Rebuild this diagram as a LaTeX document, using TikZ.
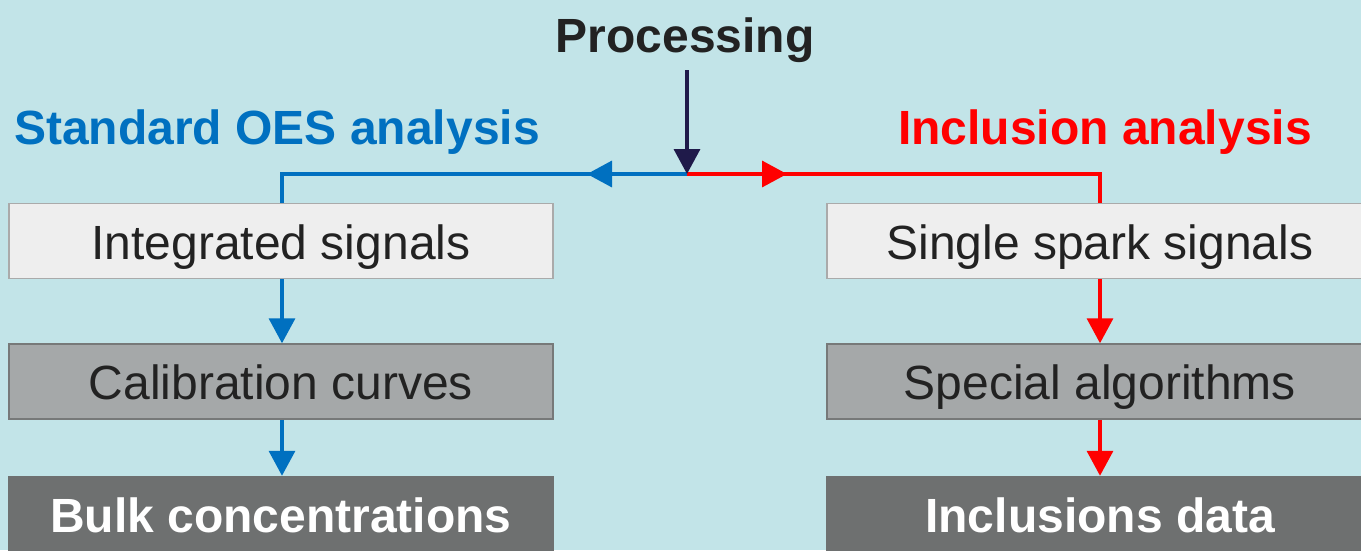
\documentclass[tikz,border=0pt]{standalone}
\usepackage{fontspec}
\setmainfont{Liberation Sans}
\usetikzlibrary{arrows.meta}
\definecolor{bg}{HTML}{C2E4E8}
\definecolor{lightbox}{HTML}{EEEEEE}
\definecolor{lightborder}{HTML}{AAAAAA}
\definecolor{midbox}{HTML}{A5A8A9}
\definecolor{midborder}{HTML}{777979}
\definecolor{darkbox}{HTML}{6E7070}
\definecolor{oesblue}{HTML}{0070C0}
\definecolor{incred}{HTML}{FF0000}
\definecolor{navy}{HTML}{1F1A4A}
\definecolor{txt}{HTML}{222222}
\tikzset{
  bigfont/.style={font=\fontsize{48}{56}\selectfont},
  boxbase/.style={bigfont, minimum height=75pt, inner sep=0pt, text height=46pt, text depth=10pt, line width=1.5pt},
  lightstyle/.style={boxbase, fill=lightbox, draw=lightborder, text=txt},
  midstyle/.style={boxbase, fill=midbox, draw=midborder, text=txt},
  darkstyle/.style={boxbase, fill=darkbox, draw=darkbox, text=white, font=\fontsize{48}{56}\selectfont\bfseries},
  header/.style={font=\fontsize{48}{56}\selectfont\bfseries, inner sep=0pt, text height=46pt, text depth=10pt},
  flow/.style={line width=3.5pt},
  tip/.style={-{Triangle[length=25pt,width=26pt]}},
}
\begin{document}
\begin{tikzpicture}[x=1pt,y=-1pt]
\fill[bg] (0,0) rectangle (1361,550);
\useasboundingbox (0,0) rectangle (1361,550);
\clip (0,0) rectangle (1361,550);

% headers
\node[header, text=txt] (proc) at (685,34) {Processing};
\node[header, text=oesblue] (oes) at (277,126) {Standard OES analysis};
\node[header, text=incred] (inc) at (1105,126) {Inclusion analysis};

% boxes
\node[lightstyle, minimum width=544pt] (b1) at (281,241) {Integrated signals};
\node[midstyle, minimum width=544pt] (b2) at (281,381.5) {Calibration curves};
\node[darkstyle, minimum width=544pt] (b3) at (281,514) {Bulk concentrations};
\node[lightstyle, minimum width=546pt] (c1) at (1100,241) {Single spark signals};
\node[midstyle, minimum width=546pt] (c2) at (1100,381.5) {Special algorithms};
\node[darkstyle, minimum width=546pt] (c3) at (1100,514) {Inclusions data};

% junction coordinates
\coordinate (J) at (687,174);
\coordinate (Ptop) at (687,70);
\coordinate (Lc) at (282,174);
\coordinate (Rc) at (1100,174);
\coordinate (Lt) at (587,174);
\coordinate (Rt) at (787,174);

% left branch
\draw[flow, oesblue] (J) -- (Lc) -- (Lc |- b1.north);
\draw[flow, oesblue, tip] (J) -- (Lt);
% right branch
\draw[flow, incred] (J) -- (Rc) -- (Rc |- c1.north);
\draw[flow, incred, tip] (J) -- (Rt);
% processing arrow
\draw[flow, navy, tip] (Ptop) -- (J);

% vertical arrows
\draw[flow, oesblue, tip] (b1.south -| Lc) -- (b2.north -| Lc);
\draw[flow, oesblue, tip] (b2.south -| Lc) -- (b3.north -| Lc);
\draw[flow, incred, tip] (c1.south -| Rc) -- (c2.north -| Rc);
\draw[flow, incred, tip] (c2.south -| Rc) -- (c3.north -| Rc);
\end{tikzpicture}
\end{document}
